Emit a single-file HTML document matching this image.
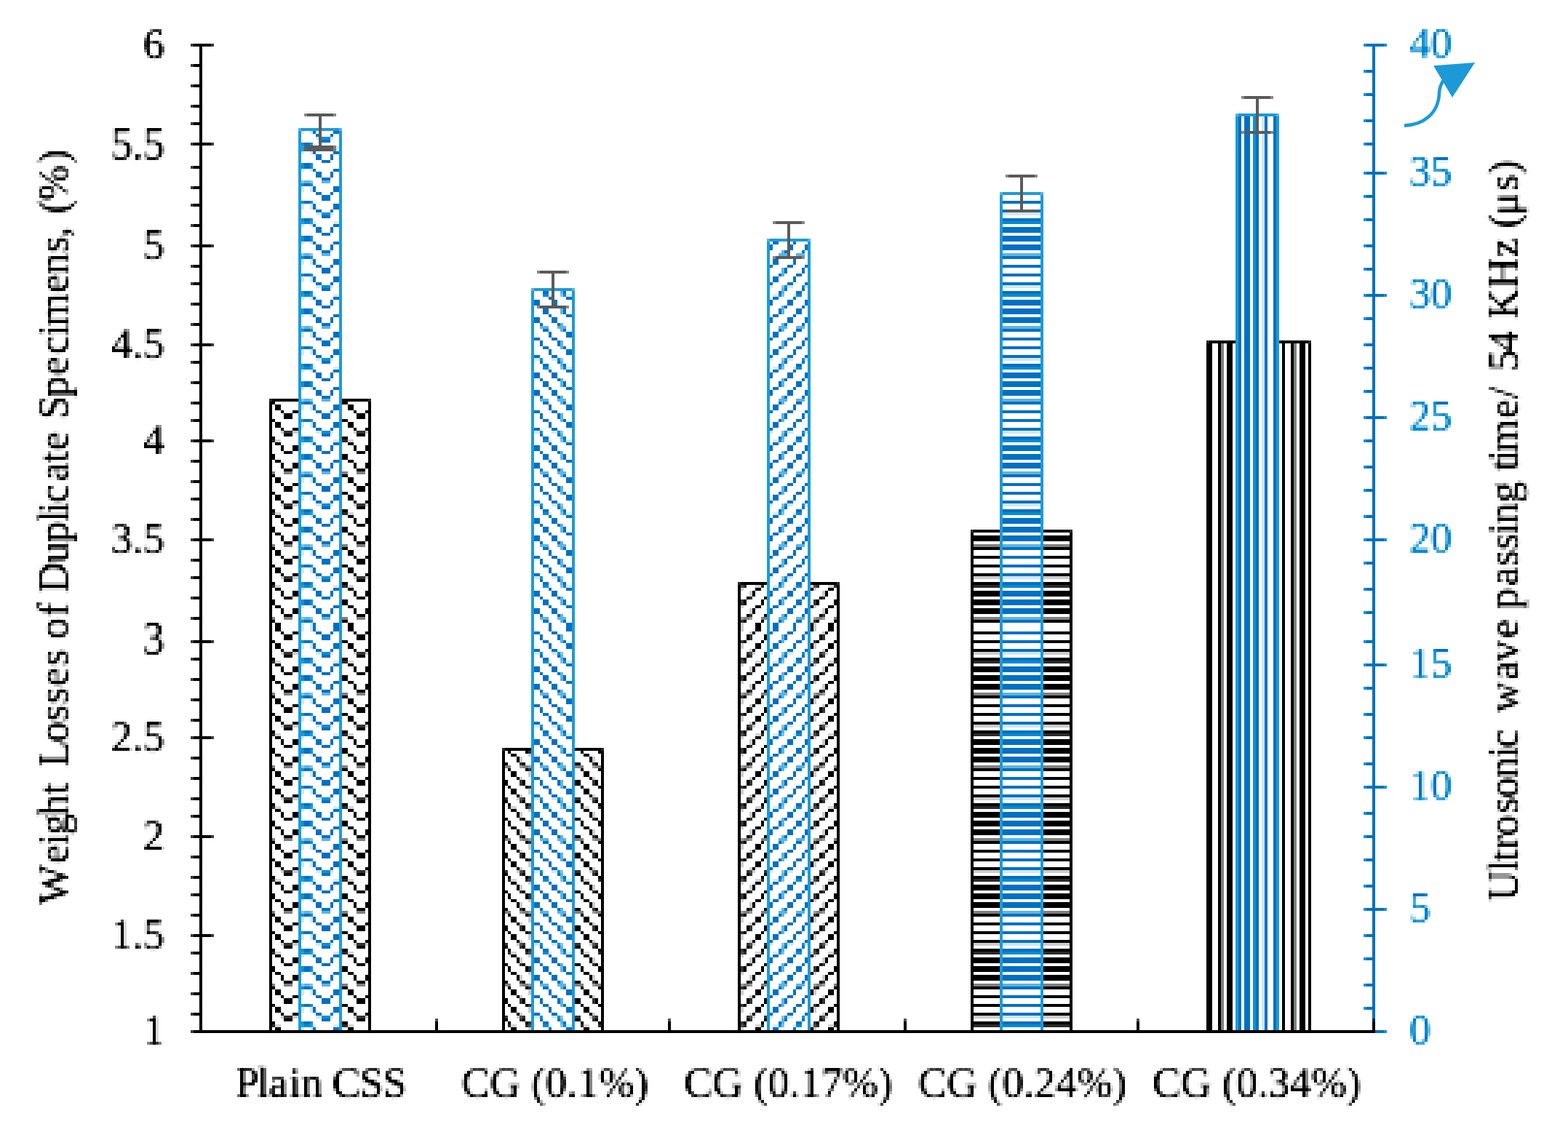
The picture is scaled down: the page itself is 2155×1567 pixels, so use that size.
<!DOCTYPE html>
<html lang="en"><head><meta charset="utf-8"><title>Weight losses of duplicate specimens and ultrasonic wave passing time</title>
<style>html,body{margin:0;padding:0;background:#fff}body{width:2155px;height:1567px;overflow:hidden}svg{display:block}text{font-family:"Liberation Serif","DejaVu Serif",serif;font-size:58.6px;font-kerning:none;font-variant-ligatures:none}</style></head><body>
<svg width="2155" height="1567" viewBox="0 0 2155 1567" role="img" aria-label="Bar chart: weight losses of duplicate specimens and ultrasonic wave passing time">
<defs>
<g id="t_zzk" fill="#000"><rect x="0" y="14" width="2" height="1" opacity="0.5"/><rect x="0" y="3" width="2" height="1" opacity="0.83"/><rect x="0" y="2" width="2" height="1"/><rect x="0" y="8" width="2" height="2"/><rect x="0" y="15" width="2" height="1"/><rect x="0" y="21" width="2" height="1"/><rect x="2" y="3" width="2" height="1" opacity="0.17"/><rect x="2" y="4" width="2" height="1"/><rect x="2" y="10" width="2" height="1"/><rect x="2" y="16" width="2" height="2"/><rect x="2" y="22" width="2" height="2"/><rect x="4" y="0" width="1" height="1" opacity="0.2"/><rect x="4" y="5" width="1" height="2"/><rect x="4" y="11" width="1" height="2"/><rect x="4" y="18" width="1" height="1"/><rect x="4" y="24" width="1" height="1"/><rect x="5" y="14" width="3" height="1" opacity="0.5"/><rect x="5" y="0" width="3" height="1" opacity="0.8"/><rect x="5" y="1" width="3" height="1"/><rect x="5" y="7" width="3" height="1"/><rect x="5" y="13" width="3" height="1"/><rect x="5" y="19" width="3" height="2"/><rect x="8" y="0" width="2" height="1" opacity="0.2"/><rect x="8" y="5" width="2" height="2"/><rect x="8" y="11" width="2" height="2"/><rect x="8" y="18" width="2" height="1"/><rect x="8" y="24" width="2" height="1"/><rect x="10" y="3" width="1" height="1" opacity="0.17"/><rect x="10" y="4" width="1" height="1"/><rect x="10" y="10" width="1" height="1"/><rect x="10" y="16" width="1" height="2"/><rect x="10" y="22" width="1" height="2"/><rect x="11" y="4" width="1" height="1" opacity="0.2"/><rect x="11" y="10" width="1" height="1" opacity="0.2"/><rect x="11" y="16" width="1" height="2" opacity="0.2"/><rect x="11" y="22" width="1" height="2" opacity="0.2"/><rect x="11" y="14" width="1" height="1" opacity="0.4"/><rect x="11" y="3" width="1" height="1" opacity="0.7"/><rect x="11" y="2" width="1" height="1" opacity="0.8"/><rect x="11" y="8" width="1" height="2" opacity="0.8"/><rect x="11" y="15" width="1" height="1" opacity="0.8"/><rect x="11" y="21" width="1" height="1" opacity="0.8"/><rect x="12" y="14" width="2" height="1" opacity="0.5"/><rect x="12" y="3" width="2" height="1" opacity="0.83"/><rect x="12" y="2" width="2" height="1"/><rect x="12" y="8" width="2" height="2"/><rect x="12" y="15" width="2" height="1"/><rect x="12" y="21" width="2" height="1"/><rect x="14" y="4" width="1" height="1" opacity="0.2"/><rect x="14" y="10" width="1" height="1" opacity="0.2"/><rect x="14" y="16" width="1" height="2" opacity="0.2"/><rect x="14" y="22" width="1" height="2" opacity="0.2"/><rect x="14" y="14" width="1" height="1" opacity="0.4"/><rect x="14" y="3" width="1" height="1" opacity="0.7"/><rect x="14" y="2" width="1" height="1" opacity="0.8"/><rect x="14" y="8" width="1" height="2" opacity="0.8"/><rect x="14" y="15" width="1" height="1" opacity="0.8"/><rect x="14" y="21" width="1" height="1" opacity="0.8"/><rect x="15" y="3" width="1" height="1" opacity="0.17"/><rect x="15" y="4" width="1" height="1"/><rect x="15" y="10" width="1" height="1"/><rect x="15" y="16" width="1" height="2"/><rect x="15" y="22" width="1" height="2"/><rect x="16" y="0" width="2" height="1" opacity="0.2"/><rect x="16" y="5" width="2" height="2"/><rect x="16" y="11" width="2" height="2"/><rect x="16" y="18" width="2" height="1"/><rect x="16" y="24" width="2" height="1"/><rect x="18" y="14" width="3" height="1" opacity="0.5"/><rect x="18" y="0" width="3" height="1" opacity="0.8"/><rect x="18" y="1" width="3" height="1"/><rect x="18" y="7" width="3" height="1"/><rect x="18" y="13" width="3" height="1"/><rect x="18" y="19" width="3" height="2"/><rect x="21" y="0" width="1" height="1" opacity="0.2"/><rect x="21" y="5" width="1" height="2"/><rect x="21" y="11" width="1" height="2"/><rect x="21" y="18" width="1" height="1"/><rect x="21" y="24" width="1" height="1"/><rect x="22" y="3" width="2" height="1" opacity="0.17"/><rect x="22" y="4" width="2" height="1"/><rect x="22" y="10" width="2" height="1"/><rect x="22" y="16" width="2" height="2"/><rect x="22" y="22" width="2" height="2"/><rect x="24" y="14" width="1" height="1" opacity="0.5"/><rect x="24" y="3" width="1" height="1" opacity="0.83"/><rect x="24" y="2" width="1" height="1"/><rect x="24" y="8" width="1" height="2"/><rect x="24" y="15" width="1" height="1"/><rect x="24" y="21" width="1" height="1"/></g>
<g id="t_zzb" fill="#0070c4"><rect x="0" y="14" width="2" height="1" fill="#5cb5e0"/><rect x="0" y="3" width="2" height="1" fill="#008cd2"/><rect x="0" y="2" width="2" height="1"/><rect x="0" y="8" width="2" height="2"/><rect x="0" y="15" width="2" height="1"/><rect x="0" y="21" width="2" height="1"/><rect x="2" y="3" width="2" height="1" fill="#d6ebf6"/><rect x="2" y="4" width="2" height="1"/><rect x="2" y="10" width="2" height="1"/><rect x="2" y="16" width="2" height="2"/><rect x="2" y="22" width="2" height="2"/><rect x="4" y="0" width="1" height="1" fill="#cfe8f5"/><rect x="4" y="5" width="1" height="2"/><rect x="4" y="11" width="1" height="2"/><rect x="4" y="18" width="1" height="1"/><rect x="4" y="24" width="1" height="1"/><rect x="5" y="14" width="3" height="1" fill="#5cb5e0"/><rect x="5" y="0" width="3" height="1" fill="#0890d3"/><rect x="5" y="1" width="3" height="1"/><rect x="5" y="7" width="3" height="1"/><rect x="5" y="13" width="3" height="1"/><rect x="5" y="19" width="3" height="2"/><rect x="8" y="0" width="2" height="1" fill="#cfe8f5"/><rect x="8" y="5" width="2" height="2"/><rect x="8" y="11" width="2" height="2"/><rect x="8" y="18" width="2" height="1"/><rect x="8" y="24" width="2" height="1"/><rect x="10" y="3" width="1" height="1" fill="#d6ebf6"/><rect x="10" y="4" width="1" height="1"/><rect x="10" y="10" width="1" height="1"/><rect x="10" y="16" width="1" height="2"/><rect x="10" y="22" width="1" height="2"/><rect x="11" y="4" width="1" height="1" fill="#cfe8f5"/><rect x="11" y="10" width="1" height="1" fill="#cfe8f5"/><rect x="11" y="16" width="1" height="2" fill="#cfe8f5"/><rect x="11" y="22" width="1" height="2" fill="#cfe8f5"/><rect x="11" y="14" width="1" height="1" fill="#82c6e7"/><rect x="11" y="3" width="1" height="1" fill="#249cd8"/><rect x="11" y="2" width="1" height="1" fill="#0890d3"/><rect x="11" y="8" width="1" height="2" fill="#0890d3"/><rect x="11" y="15" width="1" height="1" fill="#0890d3"/><rect x="11" y="21" width="1" height="1" fill="#0890d3"/><rect x="12" y="14" width="2" height="1" fill="#5cb5e0"/><rect x="12" y="3" width="2" height="1" fill="#008cd2"/><rect x="12" y="2" width="2" height="1"/><rect x="12" y="8" width="2" height="2"/><rect x="12" y="15" width="2" height="1"/><rect x="12" y="21" width="2" height="1"/><rect x="14" y="4" width="1" height="1" fill="#cfe8f5"/><rect x="14" y="10" width="1" height="1" fill="#cfe8f5"/><rect x="14" y="16" width="1" height="2" fill="#cfe8f5"/><rect x="14" y="22" width="1" height="2" fill="#cfe8f5"/><rect x="14" y="14" width="1" height="1" fill="#82c6e7"/><rect x="14" y="3" width="1" height="1" fill="#249cd8"/><rect x="14" y="2" width="1" height="1" fill="#0890d3"/><rect x="14" y="8" width="1" height="2" fill="#0890d3"/><rect x="14" y="15" width="1" height="1" fill="#0890d3"/><rect x="14" y="21" width="1" height="1" fill="#0890d3"/><rect x="15" y="3" width="1" height="1" fill="#d6ebf6"/><rect x="15" y="4" width="1" height="1"/><rect x="15" y="10" width="1" height="1"/><rect x="15" y="16" width="1" height="2"/><rect x="15" y="22" width="1" height="2"/><rect x="16" y="0" width="2" height="1" fill="#cfe8f5"/><rect x="16" y="5" width="2" height="2"/><rect x="16" y="11" width="2" height="2"/><rect x="16" y="18" width="2" height="1"/><rect x="16" y="24" width="2" height="1"/><rect x="18" y="14" width="3" height="1" fill="#5cb5e0"/><rect x="18" y="0" width="3" height="1" fill="#0890d3"/><rect x="18" y="1" width="3" height="1"/><rect x="18" y="7" width="3" height="1"/><rect x="18" y="13" width="3" height="1"/><rect x="18" y="19" width="3" height="2"/><rect x="21" y="0" width="1" height="1" fill="#cfe8f5"/><rect x="21" y="5" width="1" height="2"/><rect x="21" y="11" width="1" height="2"/><rect x="21" y="18" width="1" height="1"/><rect x="21" y="24" width="1" height="1"/><rect x="22" y="3" width="2" height="1" fill="#d6ebf6"/><rect x="22" y="4" width="2" height="1"/><rect x="22" y="10" width="2" height="1"/><rect x="22" y="16" width="2" height="2"/><rect x="22" y="22" width="2" height="2"/><rect x="24" y="14" width="1" height="1" fill="#5cb5e0"/><rect x="24" y="3" width="1" height="1" fill="#008cd2"/><rect x="24" y="2" width="1" height="1"/><rect x="24" y="8" width="1" height="2"/><rect x="24" y="15" width="1" height="1"/><rect x="24" y="21" width="1" height="1"/></g>
<g id="t_ddk" fill="#000"><rect x="0" y="0" width="1" height="1" opacity="0.4"/><rect x="0" y="3" width="1" height="1" opacity="0.41"/><rect x="0" y="1" width="1" height="2" opacity="0.5"/><rect x="0" y="7" width="1" height="3" opacity="0.5"/><rect x="0" y="13" width="1" height="1" opacity="0.5"/><rect x="0" y="15" width="1" height="1" opacity="0.5"/><rect x="0" y="19" width="1" height="3" opacity="0.5"/><rect x="0" y="14" width="2" height="1" opacity="0.5"/><rect x="1" y="3" width="1" height="1" opacity="0.83"/><rect x="1" y="2" width="1" height="1"/><rect x="1" y="8" width="1" height="2"/><rect x="1" y="15" width="1" height="1"/><rect x="1" y="21" width="1" height="1"/><rect x="2" y="3" width="2" height="1" opacity="0.17"/><rect x="2" y="4" width="2" height="1"/><rect x="2" y="10" width="2" height="1"/><rect x="2" y="16" width="2" height="2"/><rect x="2" y="22" width="2" height="2"/><rect x="4" y="0" width="1" height="1" opacity="0.2"/><rect x="4" y="5" width="1" height="2"/><rect x="4" y="11" width="1" height="2"/><rect x="4" y="18" width="1" height="1"/><rect x="4" y="24" width="1" height="1"/><rect x="5" y="0" width="2" height="1" opacity="0.8"/><rect x="5" y="1" width="2" height="1"/><rect x="5" y="7" width="2" height="1"/><rect x="5" y="13" width="2" height="1"/><rect x="5" y="19" width="2" height="2"/><rect x="5" y="14" width="3" height="1" opacity="0.5"/><rect x="7" y="3" width="1" height="1" opacity="0.83"/><rect x="7" y="2" width="1" height="1"/><rect x="7" y="8" width="1" height="2"/><rect x="7" y="15" width="1" height="1"/><rect x="7" y="21" width="1" height="1"/><rect x="8" y="3" width="2" height="1" opacity="0.17"/><rect x="8" y="4" width="2" height="1"/><rect x="8" y="10" width="2" height="1"/><rect x="8" y="16" width="2" height="2"/><rect x="8" y="22" width="2" height="2"/><rect x="10" y="0" width="1" height="1" opacity="0.2"/><rect x="10" y="5" width="1" height="2"/><rect x="10" y="11" width="1" height="2"/><rect x="10" y="18" width="1" height="1"/><rect x="10" y="24" width="1" height="1"/><rect x="11" y="5" width="1" height="2" opacity="0.2"/><rect x="11" y="11" width="1" height="2" opacity="0.2"/><rect x="11" y="18" width="1" height="1" opacity="0.2"/><rect x="11" y="24" width="1" height="1" opacity="0.2"/><rect x="11" y="14" width="1" height="1" opacity="0.4"/><rect x="11" y="0" width="1" height="1" opacity="0.68"/><rect x="11" y="1" width="1" height="1" opacity="0.8"/><rect x="11" y="7" width="1" height="1" opacity="0.8"/><rect x="11" y="13" width="1" height="1" opacity="0.8"/><rect x="11" y="19" width="1" height="2" opacity="0.8"/><rect x="12" y="0" width="1" height="1" opacity="0.8"/><rect x="12" y="1" width="1" height="1"/><rect x="12" y="7" width="1" height="1"/><rect x="12" y="13" width="1" height="1"/><rect x="12" y="19" width="1" height="2"/><rect x="12" y="14" width="2" height="1" opacity="0.5"/><rect x="13" y="3" width="1" height="1" opacity="0.83"/><rect x="13" y="2" width="1" height="1"/><rect x="13" y="8" width="1" height="2"/><rect x="13" y="15" width="1" height="1"/><rect x="13" y="21" width="1" height="1"/><rect x="14" y="4" width="1" height="1" opacity="0.2"/><rect x="14" y="10" width="1" height="1" opacity="0.2"/><rect x="14" y="16" width="1" height="2" opacity="0.2"/><rect x="14" y="22" width="1" height="2" opacity="0.2"/><rect x="14" y="14" width="1" height="1" opacity="0.4"/><rect x="14" y="3" width="1" height="1" opacity="0.7"/><rect x="14" y="2" width="1" height="1" opacity="0.8"/><rect x="14" y="8" width="1" height="2" opacity="0.8"/><rect x="14" y="15" width="1" height="1" opacity="0.8"/><rect x="14" y="21" width="1" height="1" opacity="0.8"/><rect x="15" y="3" width="1" height="1" opacity="0.17"/><rect x="15" y="4" width="1" height="1"/><rect x="15" y="10" width="1" height="1"/><rect x="15" y="16" width="1" height="2"/><rect x="15" y="22" width="1" height="2"/><rect x="16" y="0" width="2" height="1" opacity="0.2"/><rect x="16" y="5" width="2" height="2"/><rect x="16" y="11" width="2" height="2"/><rect x="16" y="18" width="2" height="1"/><rect x="16" y="24" width="2" height="1"/><rect x="18" y="0" width="1" height="1" opacity="0.8"/><rect x="18" y="1" width="1" height="1"/><rect x="18" y="7" width="1" height="1"/><rect x="18" y="13" width="1" height="1"/><rect x="18" y="19" width="1" height="2"/><rect x="18" y="14" width="3" height="1" opacity="0.5"/><rect x="19" y="3" width="2" height="1" opacity="0.83"/><rect x="19" y="2" width="2" height="1"/><rect x="19" y="8" width="2" height="2"/><rect x="19" y="15" width="2" height="1"/><rect x="19" y="21" width="2" height="1"/><rect x="21" y="3" width="1" height="1" opacity="0.17"/><rect x="21" y="4" width="1" height="1"/><rect x="21" y="10" width="1" height="1"/><rect x="21" y="16" width="1" height="2"/><rect x="21" y="22" width="1" height="2"/><rect x="22" y="0" width="2" height="1" opacity="0.2"/><rect x="22" y="5" width="2" height="2"/><rect x="22" y="11" width="2" height="2"/><rect x="22" y="18" width="2" height="1"/><rect x="22" y="24" width="2" height="1"/><rect x="24" y="14" width="1" height="1" opacity="0.5"/><rect x="24" y="0" width="1" height="1" opacity="0.8"/><rect x="24" y="1" width="1" height="1"/><rect x="24" y="7" width="1" height="1"/><rect x="24" y="13" width="1" height="1"/><rect x="24" y="19" width="1" height="2"/></g>
<g id="t_ddb" fill="#0070c4"><rect x="0" y="0" width="1" height="1" fill="#82c6e7"/><rect x="0" y="3" width="1" height="1" fill="#7ec4e6"/><rect x="0" y="1" width="1" height="2" fill="#5cb5e0"/><rect x="0" y="7" width="1" height="3" fill="#5cb5e0"/><rect x="0" y="13" width="1" height="1" fill="#5cb5e0"/><rect x="0" y="15" width="1" height="1" fill="#5cb5e0"/><rect x="0" y="19" width="1" height="3" fill="#5cb5e0"/><rect x="0" y="14" width="2" height="1" fill="#5cb5e0"/><rect x="1" y="3" width="1" height="1" fill="#008cd2"/><rect x="1" y="2" width="1" height="1"/><rect x="1" y="8" width="1" height="2"/><rect x="1" y="15" width="1" height="1"/><rect x="1" y="21" width="1" height="1"/><rect x="2" y="3" width="2" height="1" fill="#d6ebf6"/><rect x="2" y="4" width="2" height="1"/><rect x="2" y="10" width="2" height="1"/><rect x="2" y="16" width="2" height="2"/><rect x="2" y="22" width="2" height="2"/><rect x="4" y="0" width="1" height="1" fill="#cfe8f5"/><rect x="4" y="5" width="1" height="2"/><rect x="4" y="11" width="1" height="2"/><rect x="4" y="18" width="1" height="1"/><rect x="4" y="24" width="1" height="1"/><rect x="5" y="0" width="2" height="1" fill="#0890d3"/><rect x="5" y="1" width="2" height="1"/><rect x="5" y="7" width="2" height="1"/><rect x="5" y="13" width="2" height="1"/><rect x="5" y="19" width="2" height="2"/><rect x="5" y="14" width="3" height="1" fill="#5cb5e0"/><rect x="7" y="3" width="1" height="1" fill="#008cd2"/><rect x="7" y="2" width="1" height="1"/><rect x="7" y="8" width="1" height="2"/><rect x="7" y="15" width="1" height="1"/><rect x="7" y="21" width="1" height="1"/><rect x="8" y="3" width="2" height="1" fill="#d6ebf6"/><rect x="8" y="4" width="2" height="1"/><rect x="8" y="10" width="2" height="1"/><rect x="8" y="16" width="2" height="2"/><rect x="8" y="22" width="2" height="2"/><rect x="10" y="0" width="1" height="1" fill="#cfe8f5"/><rect x="10" y="5" width="1" height="2"/><rect x="10" y="11" width="1" height="2"/><rect x="10" y="18" width="1" height="1"/><rect x="10" y="24" width="1" height="1"/><rect x="11" y="5" width="1" height="2" fill="#cfe8f5"/><rect x="11" y="11" width="1" height="2" fill="#cfe8f5"/><rect x="11" y="18" width="1" height="1" fill="#cfe8f5"/><rect x="11" y="24" width="1" height="1" fill="#cfe8f5"/><rect x="11" y="14" width="1" height="1" fill="#82c6e7"/><rect x="11" y="0" width="1" height="1" fill="#2a9fd8"/><rect x="11" y="1" width="1" height="1" fill="#0890d3"/><rect x="11" y="7" width="1" height="1" fill="#0890d3"/><rect x="11" y="13" width="1" height="1" fill="#0890d3"/><rect x="11" y="19" width="1" height="2" fill="#0890d3"/><rect x="12" y="0" width="1" height="1" fill="#0890d3"/><rect x="12" y="1" width="1" height="1"/><rect x="12" y="7" width="1" height="1"/><rect x="12" y="13" width="1" height="1"/><rect x="12" y="19" width="1" height="2"/><rect x="12" y="14" width="2" height="1" fill="#5cb5e0"/><rect x="13" y="3" width="1" height="1" fill="#008cd2"/><rect x="13" y="2" width="1" height="1"/><rect x="13" y="8" width="1" height="2"/><rect x="13" y="15" width="1" height="1"/><rect x="13" y="21" width="1" height="1"/><rect x="14" y="4" width="1" height="1" fill="#cfe8f5"/><rect x="14" y="10" width="1" height="1" fill="#cfe8f5"/><rect x="14" y="16" width="1" height="2" fill="#cfe8f5"/><rect x="14" y="22" width="1" height="2" fill="#cfe8f5"/><rect x="14" y="14" width="1" height="1" fill="#82c6e7"/><rect x="14" y="3" width="1" height="1" fill="#249cd8"/><rect x="14" y="2" width="1" height="1" fill="#0890d3"/><rect x="14" y="8" width="1" height="2" fill="#0890d3"/><rect x="14" y="15" width="1" height="1" fill="#0890d3"/><rect x="14" y="21" width="1" height="1" fill="#0890d3"/><rect x="15" y="3" width="1" height="1" fill="#d6ebf6"/><rect x="15" y="4" width="1" height="1"/><rect x="15" y="10" width="1" height="1"/><rect x="15" y="16" width="1" height="2"/><rect x="15" y="22" width="1" height="2"/><rect x="16" y="0" width="2" height="1" fill="#cfe8f5"/><rect x="16" y="5" width="2" height="2"/><rect x="16" y="11" width="2" height="2"/><rect x="16" y="18" width="2" height="1"/><rect x="16" y="24" width="2" height="1"/><rect x="18" y="0" width="1" height="1" fill="#0890d3"/><rect x="18" y="1" width="1" height="1"/><rect x="18" y="7" width="1" height="1"/><rect x="18" y="13" width="1" height="1"/><rect x="18" y="19" width="1" height="2"/><rect x="18" y="14" width="3" height="1" fill="#5cb5e0"/><rect x="19" y="3" width="2" height="1" fill="#008cd2"/><rect x="19" y="2" width="2" height="1"/><rect x="19" y="8" width="2" height="2"/><rect x="19" y="15" width="2" height="1"/><rect x="19" y="21" width="2" height="1"/><rect x="21" y="3" width="1" height="1" fill="#d6ebf6"/><rect x="21" y="4" width="1" height="1"/><rect x="21" y="10" width="1" height="1"/><rect x="21" y="16" width="1" height="2"/><rect x="21" y="22" width="1" height="2"/><rect x="22" y="0" width="2" height="1" fill="#cfe8f5"/><rect x="22" y="5" width="2" height="2"/><rect x="22" y="11" width="2" height="2"/><rect x="22" y="18" width="2" height="1"/><rect x="22" y="24" width="2" height="1"/><rect x="24" y="14" width="1" height="1" fill="#5cb5e0"/><rect x="24" y="0" width="1" height="1" fill="#0890d3"/><rect x="24" y="1" width="1" height="1"/><rect x="24" y="7" width="1" height="1"/><rect x="24" y="13" width="1" height="1"/><rect x="24" y="19" width="1" height="2"/></g>
<g id="t_duk" fill="#000"><rect x="0" y="0" width="1" height="1" opacity="0.4"/><rect x="0" y="3" width="1" height="1" opacity="0.41"/><rect x="0" y="1" width="1" height="2" opacity="0.5"/><rect x="0" y="7" width="1" height="3" opacity="0.5"/><rect x="0" y="13" width="1" height="1" opacity="0.5"/><rect x="0" y="15" width="1" height="1" opacity="0.5"/><rect x="0" y="19" width="1" height="3" opacity="0.5"/><rect x="0" y="14" width="2" height="1" opacity="0.5"/><rect x="1" y="0" width="1" height="1" opacity="0.8"/><rect x="1" y="1" width="1" height="1"/><rect x="1" y="7" width="1" height="1"/><rect x="1" y="13" width="1" height="1"/><rect x="1" y="19" width="1" height="2"/><rect x="2" y="0" width="2" height="1" opacity="0.2"/><rect x="2" y="5" width="2" height="2"/><rect x="2" y="11" width="2" height="2"/><rect x="2" y="18" width="2" height="1"/><rect x="2" y="24" width="2" height="1"/><rect x="4" y="3" width="1" height="1" opacity="0.17"/><rect x="4" y="4" width="1" height="1"/><rect x="4" y="10" width="1" height="1"/><rect x="4" y="16" width="1" height="2"/><rect x="4" y="22" width="1" height="2"/><rect x="5" y="3" width="2" height="1" opacity="0.83"/><rect x="5" y="2" width="2" height="1"/><rect x="5" y="8" width="2" height="2"/><rect x="5" y="15" width="2" height="1"/><rect x="5" y="21" width="2" height="1"/><rect x="5" y="14" width="3" height="1" opacity="0.5"/><rect x="7" y="0" width="1" height="1" opacity="0.8"/><rect x="7" y="1" width="1" height="1"/><rect x="7" y="7" width="1" height="1"/><rect x="7" y="13" width="1" height="1"/><rect x="7" y="19" width="1" height="2"/><rect x="8" y="0" width="2" height="1" opacity="0.2"/><rect x="8" y="5" width="2" height="2"/><rect x="8" y="11" width="2" height="2"/><rect x="8" y="18" width="2" height="1"/><rect x="8" y="24" width="2" height="1"/><rect x="10" y="3" width="1" height="1" opacity="0.17"/><rect x="10" y="4" width="1" height="1"/><rect x="10" y="10" width="1" height="1"/><rect x="10" y="16" width="1" height="2"/><rect x="10" y="22" width="1" height="2"/><rect x="11" y="4" width="1" height="1" opacity="0.2"/><rect x="11" y="10" width="1" height="1" opacity="0.2"/><rect x="11" y="16" width="1" height="2" opacity="0.2"/><rect x="11" y="22" width="1" height="2" opacity="0.2"/><rect x="11" y="14" width="1" height="1" opacity="0.4"/><rect x="11" y="3" width="1" height="1" opacity="0.7"/><rect x="11" y="2" width="1" height="1" opacity="0.8"/><rect x="11" y="8" width="1" height="2" opacity="0.8"/><rect x="11" y="15" width="1" height="1" opacity="0.8"/><rect x="11" y="21" width="1" height="1" opacity="0.8"/><rect x="12" y="3" width="1" height="1" opacity="0.83"/><rect x="12" y="2" width="1" height="1"/><rect x="12" y="8" width="1" height="2"/><rect x="12" y="15" width="1" height="1"/><rect x="12" y="21" width="1" height="1"/><rect x="12" y="14" width="2" height="1" opacity="0.5"/><rect x="13" y="0" width="1" height="1" opacity="0.8"/><rect x="13" y="1" width="1" height="1"/><rect x="13" y="7" width="1" height="1"/><rect x="13" y="13" width="1" height="1"/><rect x="13" y="19" width="1" height="2"/><rect x="14" y="5" width="1" height="2" opacity="0.2"/><rect x="14" y="11" width="1" height="2" opacity="0.2"/><rect x="14" y="18" width="1" height="1" opacity="0.2"/><rect x="14" y="24" width="1" height="1" opacity="0.2"/><rect x="14" y="14" width="1" height="1" opacity="0.4"/><rect x="14" y="0" width="1" height="1" opacity="0.68"/><rect x="14" y="1" width="1" height="1" opacity="0.8"/><rect x="14" y="7" width="1" height="1" opacity="0.8"/><rect x="14" y="13" width="1" height="1" opacity="0.8"/><rect x="14" y="19" width="1" height="2" opacity="0.8"/><rect x="15" y="0" width="1" height="1" opacity="0.2"/><rect x="15" y="5" width="1" height="2"/><rect x="15" y="11" width="1" height="2"/><rect x="15" y="18" width="1" height="1"/><rect x="15" y="24" width="1" height="1"/><rect x="16" y="3" width="2" height="1" opacity="0.17"/><rect x="16" y="4" width="2" height="1"/><rect x="16" y="10" width="2" height="1"/><rect x="16" y="16" width="2" height="2"/><rect x="16" y="22" width="2" height="2"/><rect x="18" y="3" width="1" height="1" opacity="0.83"/><rect x="18" y="2" width="1" height="1"/><rect x="18" y="8" width="1" height="2"/><rect x="18" y="15" width="1" height="1"/><rect x="18" y="21" width="1" height="1"/><rect x="18" y="14" width="3" height="1" opacity="0.5"/><rect x="19" y="0" width="2" height="1" opacity="0.8"/><rect x="19" y="1" width="2" height="1"/><rect x="19" y="7" width="2" height="1"/><rect x="19" y="13" width="2" height="1"/><rect x="19" y="19" width="2" height="2"/><rect x="21" y="0" width="1" height="1" opacity="0.2"/><rect x="21" y="5" width="1" height="2"/><rect x="21" y="11" width="1" height="2"/><rect x="21" y="18" width="1" height="1"/><rect x="21" y="24" width="1" height="1"/><rect x="22" y="3" width="2" height="1" opacity="0.17"/><rect x="22" y="4" width="2" height="1"/><rect x="22" y="10" width="2" height="1"/><rect x="22" y="16" width="2" height="2"/><rect x="22" y="22" width="2" height="2"/><rect x="24" y="14" width="1" height="1" opacity="0.5"/><rect x="24" y="3" width="1" height="1" opacity="0.83"/><rect x="24" y="2" width="1" height="1"/><rect x="24" y="8" width="1" height="2"/><rect x="24" y="15" width="1" height="1"/><rect x="24" y="21" width="1" height="1"/></g>
<g id="t_dub" fill="#0070c4"><rect x="0" y="0" width="1" height="1" fill="#82c6e7"/><rect x="0" y="3" width="1" height="1" fill="#7ec4e6"/><rect x="0" y="1" width="1" height="2" fill="#5cb5e0"/><rect x="0" y="7" width="1" height="3" fill="#5cb5e0"/><rect x="0" y="13" width="1" height="1" fill="#5cb5e0"/><rect x="0" y="15" width="1" height="1" fill="#5cb5e0"/><rect x="0" y="19" width="1" height="3" fill="#5cb5e0"/><rect x="0" y="14" width="2" height="1" fill="#5cb5e0"/><rect x="1" y="0" width="1" height="1" fill="#0890d3"/><rect x="1" y="1" width="1" height="1"/><rect x="1" y="7" width="1" height="1"/><rect x="1" y="13" width="1" height="1"/><rect x="1" y="19" width="1" height="2"/><rect x="2" y="0" width="2" height="1" fill="#cfe8f5"/><rect x="2" y="5" width="2" height="2"/><rect x="2" y="11" width="2" height="2"/><rect x="2" y="18" width="2" height="1"/><rect x="2" y="24" width="2" height="1"/><rect x="4" y="3" width="1" height="1" fill="#d6ebf6"/><rect x="4" y="4" width="1" height="1"/><rect x="4" y="10" width="1" height="1"/><rect x="4" y="16" width="1" height="2"/><rect x="4" y="22" width="1" height="2"/><rect x="5" y="3" width="2" height="1" fill="#008cd2"/><rect x="5" y="2" width="2" height="1"/><rect x="5" y="8" width="2" height="2"/><rect x="5" y="15" width="2" height="1"/><rect x="5" y="21" width="2" height="1"/><rect x="5" y="14" width="3" height="1" fill="#5cb5e0"/><rect x="7" y="0" width="1" height="1" fill="#0890d3"/><rect x="7" y="1" width="1" height="1"/><rect x="7" y="7" width="1" height="1"/><rect x="7" y="13" width="1" height="1"/><rect x="7" y="19" width="1" height="2"/><rect x="8" y="0" width="2" height="1" fill="#cfe8f5"/><rect x="8" y="5" width="2" height="2"/><rect x="8" y="11" width="2" height="2"/><rect x="8" y="18" width="2" height="1"/><rect x="8" y="24" width="2" height="1"/><rect x="10" y="3" width="1" height="1" fill="#d6ebf6"/><rect x="10" y="4" width="1" height="1"/><rect x="10" y="10" width="1" height="1"/><rect x="10" y="16" width="1" height="2"/><rect x="10" y="22" width="1" height="2"/><rect x="11" y="4" width="1" height="1" fill="#cfe8f5"/><rect x="11" y="10" width="1" height="1" fill="#cfe8f5"/><rect x="11" y="16" width="1" height="2" fill="#cfe8f5"/><rect x="11" y="22" width="1" height="2" fill="#cfe8f5"/><rect x="11" y="14" width="1" height="1" fill="#82c6e7"/><rect x="11" y="3" width="1" height="1" fill="#249cd8"/><rect x="11" y="2" width="1" height="1" fill="#0890d3"/><rect x="11" y="8" width="1" height="2" fill="#0890d3"/><rect x="11" y="15" width="1" height="1" fill="#0890d3"/><rect x="11" y="21" width="1" height="1" fill="#0890d3"/><rect x="12" y="3" width="1" height="1" fill="#008cd2"/><rect x="12" y="2" width="1" height="1"/><rect x="12" y="8" width="1" height="2"/><rect x="12" y="15" width="1" height="1"/><rect x="12" y="21" width="1" height="1"/><rect x="12" y="14" width="2" height="1" fill="#5cb5e0"/><rect x="13" y="0" width="1" height="1" fill="#0890d3"/><rect x="13" y="1" width="1" height="1"/><rect x="13" y="7" width="1" height="1"/><rect x="13" y="13" width="1" height="1"/><rect x="13" y="19" width="1" height="2"/><rect x="14" y="5" width="1" height="2" fill="#cfe8f5"/><rect x="14" y="11" width="1" height="2" fill="#cfe8f5"/><rect x="14" y="18" width="1" height="1" fill="#cfe8f5"/><rect x="14" y="24" width="1" height="1" fill="#cfe8f5"/><rect x="14" y="14" width="1" height="1" fill="#82c6e7"/><rect x="14" y="0" width="1" height="1" fill="#2a9fd8"/><rect x="14" y="1" width="1" height="1" fill="#0890d3"/><rect x="14" y="7" width="1" height="1" fill="#0890d3"/><rect x="14" y="13" width="1" height="1" fill="#0890d3"/><rect x="14" y="19" width="1" height="2" fill="#0890d3"/><rect x="15" y="0" width="1" height="1" fill="#cfe8f5"/><rect x="15" y="5" width="1" height="2"/><rect x="15" y="11" width="1" height="2"/><rect x="15" y="18" width="1" height="1"/><rect x="15" y="24" width="1" height="1"/><rect x="16" y="3" width="2" height="1" fill="#d6ebf6"/><rect x="16" y="4" width="2" height="1"/><rect x="16" y="10" width="2" height="1"/><rect x="16" y="16" width="2" height="2"/><rect x="16" y="22" width="2" height="2"/><rect x="18" y="3" width="1" height="1" fill="#008cd2"/><rect x="18" y="2" width="1" height="1"/><rect x="18" y="8" width="1" height="2"/><rect x="18" y="15" width="1" height="1"/><rect x="18" y="21" width="1" height="1"/><rect x="18" y="14" width="3" height="1" fill="#5cb5e0"/><rect x="19" y="0" width="2" height="1" fill="#0890d3"/><rect x="19" y="1" width="2" height="1"/><rect x="19" y="7" width="2" height="1"/><rect x="19" y="13" width="2" height="1"/><rect x="19" y="19" width="2" height="2"/><rect x="21" y="0" width="1" height="1" fill="#cfe8f5"/><rect x="21" y="5" width="1" height="2"/><rect x="21" y="11" width="1" height="2"/><rect x="21" y="18" width="1" height="1"/><rect x="21" y="24" width="1" height="1"/><rect x="22" y="3" width="2" height="1" fill="#d6ebf6"/><rect x="22" y="4" width="2" height="1"/><rect x="22" y="10" width="2" height="1"/><rect x="22" y="16" width="2" height="2"/><rect x="22" y="22" width="2" height="2"/><rect x="24" y="14" width="1" height="1" fill="#5cb5e0"/><rect x="24" y="3" width="1" height="1" fill="#008cd2"/><rect x="24" y="2" width="1" height="1"/><rect x="24" y="8" width="1" height="2"/><rect x="24" y="15" width="1" height="1"/><rect x="24" y="21" width="1" height="1"/></g>
<g id="t_hzk" fill="#000"><rect x="0" y="0" width="25" height="1" opacity="0.2"/><rect x="0" y="14" width="25" height="1" opacity="0.5"/><rect x="0" y="3" width="25" height="1" opacity="0.83"/><rect x="0" y="2" width="25" height="1"/><rect x="0" y="5" width="25" height="2"/><rect x="0" y="8" width="25" height="2"/><rect x="0" y="11" width="25" height="2"/><rect x="0" y="15" width="25" height="1"/><rect x="0" y="18" width="25" height="1"/><rect x="0" y="21" width="25" height="1"/><rect x="0" y="24" width="25" height="1"/></g>
<g id="t_hzb" fill="#0070c4"><rect x="0" y="0" width="25" height="1" fill="#cfe8f5"/><rect x="0" y="14" width="25" height="1" fill="#5cb5e0"/><rect x="0" y="3" width="25" height="1" fill="#008cd2"/><rect x="0" y="2" width="25" height="1"/><rect x="0" y="5" width="25" height="2"/><rect x="0" y="8" width="25" height="2"/><rect x="0" y="11" width="25" height="2"/><rect x="0" y="15" width="25" height="1"/><rect x="0" y="18" width="25" height="1"/><rect x="0" y="21" width="25" height="1"/><rect x="0" y="24" width="25" height="1"/></g>
<g id="t_vtk" fill="#000"><rect x="0" y="0" width="1" height="25" opacity="0.5"/><rect x="2" y="0" width="2" height="25"/><rect x="5" y="0" width="2" height="25"/><rect x="8" y="0" width="2" height="25"/><rect x="11" y="0" width="1" height="25" opacity="0.8"/><rect x="12" y="0" width="1" height="25"/><rect x="14" y="0" width="1" height="25" opacity="0.2"/><rect x="15" y="0" width="1" height="25"/><rect x="18" y="0" width="1" height="25"/><rect x="21" y="0" width="1" height="25"/><rect x="24" y="0" width="1" height="25"/></g>
<g id="t_vtb" fill="#0070c4"><rect x="0" y="0" width="1" height="25" fill="#5cb5e0"/><rect x="2" y="0" width="2" height="25"/><rect x="5" y="0" width="2" height="25"/><rect x="8" y="0" width="2" height="25"/><rect x="11" y="0" width="1" height="25" fill="#0890d3"/><rect x="12" y="0" width="1" height="25"/><rect x="14" y="0" width="1" height="25" fill="#cfe8f5"/><rect x="15" y="0" width="1" height="25"/><rect x="18" y="0" width="1" height="25"/><rect x="21" y="0" width="1" height="25"/><rect x="24" y="0" width="1" height="25"/></g>
<pattern id="p0k0" patternUnits="userSpaceOnUse" x="370" y="88" width="100" height="100"><use href="#t_zzk" transform="scale(4)"/></pattern>
<pattern id="p0k1" patternUnits="userSpaceOnUse" x="370" y="92" width="100" height="100"><use href="#t_zzk" transform="scale(4)"/></pattern>
<pattern id="p0k2" patternUnits="userSpaceOnUse" x="370" y="96" width="100" height="100"><use href="#t_zzk" transform="scale(4)"/></pattern>
<pattern id="p0b0" patternUnits="userSpaceOnUse" x="370" y="88" width="100" height="100"><use href="#t_zzb" transform="scale(4)"/></pattern>
<pattern id="p0b1" patternUnits="userSpaceOnUse" x="370" y="92" width="100" height="100"><use href="#t_zzb" transform="scale(4)"/></pattern>
<pattern id="p0b2" patternUnits="userSpaceOnUse" x="370" y="96" width="100" height="100"><use href="#t_zzb" transform="scale(4)"/></pattern>
<pattern id="p1k0" patternUnits="userSpaceOnUse" x="770" y="88" width="100" height="100"><use href="#t_ddk" transform="scale(4)"/></pattern>
<pattern id="p1k1" patternUnits="userSpaceOnUse" x="770" y="92" width="100" height="100"><use href="#t_ddk" transform="scale(4)"/></pattern>
<pattern id="p1k2" patternUnits="userSpaceOnUse" x="770" y="96" width="100" height="100"><use href="#t_ddk" transform="scale(4)"/></pattern>
<pattern id="p1b0" patternUnits="userSpaceOnUse" x="770" y="88" width="100" height="100"><use href="#t_ddb" transform="scale(4)"/></pattern>
<pattern id="p1b1" patternUnits="userSpaceOnUse" x="770" y="92" width="100" height="100"><use href="#t_ddb" transform="scale(4)"/></pattern>
<pattern id="p1b2" patternUnits="userSpaceOnUse" x="770" y="96" width="100" height="100"><use href="#t_ddb" transform="scale(4)"/></pattern>
<pattern id="p2k0" patternUnits="userSpaceOnUse" x="1074" y="88" width="100" height="100"><use href="#t_duk" transform="scale(4)"/></pattern>
<pattern id="p2k1" patternUnits="userSpaceOnUse" x="1074" y="92" width="100" height="100"><use href="#t_duk" transform="scale(4)"/></pattern>
<pattern id="p2k2" patternUnits="userSpaceOnUse" x="1074" y="96" width="100" height="100"><use href="#t_duk" transform="scale(4)"/></pattern>
<pattern id="p2b0" patternUnits="userSpaceOnUse" x="1074" y="88" width="100" height="100"><use href="#t_dub" transform="scale(4)"/></pattern>
<pattern id="p2b1" patternUnits="userSpaceOnUse" x="1074" y="92" width="100" height="100"><use href="#t_dub" transform="scale(4)"/></pattern>
<pattern id="p2b2" patternUnits="userSpaceOnUse" x="1074" y="96" width="100" height="100"><use href="#t_dub" transform="scale(4)"/></pattern>
<pattern id="p3k0" patternUnits="userSpaceOnUse" x="1374" y="88" width="100" height="100"><use href="#t_hzk" transform="scale(4)"/></pattern>
<pattern id="p3k1" patternUnits="userSpaceOnUse" x="1374" y="92" width="100" height="100"><use href="#t_hzk" transform="scale(4)"/></pattern>
<pattern id="p3k2" patternUnits="userSpaceOnUse" x="1374" y="96" width="100" height="100"><use href="#t_hzk" transform="scale(4)"/></pattern>
<pattern id="p3b0" patternUnits="userSpaceOnUse" x="1374" y="88" width="100" height="100"><use href="#t_hzb" transform="scale(4)"/></pattern>
<pattern id="p3b1" patternUnits="userSpaceOnUse" x="1374" y="92" width="100" height="100"><use href="#t_hzb" transform="scale(4)"/></pattern>
<pattern id="p3b2" patternUnits="userSpaceOnUse" x="1374" y="96" width="100" height="100"><use href="#t_hzb" transform="scale(4)"/></pattern>
<pattern id="p4k0" patternUnits="userSpaceOnUse" x="1678" y="88" width="100" height="100"><use href="#t_vtk" transform="scale(4)"/></pattern>
<pattern id="p4k1" patternUnits="userSpaceOnUse" x="1678" y="92" width="100" height="100"><use href="#t_vtk" transform="scale(4)"/></pattern>
<pattern id="p4k2" patternUnits="userSpaceOnUse" x="1678" y="96" width="100" height="100"><use href="#t_vtk" transform="scale(4)"/></pattern>
<pattern id="p4b0" patternUnits="userSpaceOnUse" x="1678" y="88" width="100" height="100"><use href="#t_vtb" transform="scale(4)"/></pattern>
<pattern id="p4b1" patternUnits="userSpaceOnUse" x="1678" y="92" width="100" height="100"><use href="#t_vtb" transform="scale(4)"/></pattern>
<pattern id="p4b2" patternUnits="userSpaceOnUse" x="1678" y="96" width="100" height="100"><use href="#t_vtb" transform="scale(4)"/></pattern>
<filter id="pxk" filterUnits="userSpaceOnUse" x="-6" y="-4" width="2168" height="1576" color-interpolation-filters="sRGB"><feConvolveMatrix in="SourceGraphic" order="4" kernelMatrix="1 1 1 1 1 1 1 1 1 1 1 1 1 1 1 1" divisor="16" targetX="1" targetY="1" edgeMode="duplicate" preserveAlpha="true" result="avg"/><feFlood x="-5" y="-3" width="1" height="1" flood-color="#000" result="dot"/><feOffset in="dot" dx="0" dy="0" x="-6" y="-4" width="4" height="4" result="cellt"/><feTile in="cellt" result="grid"/><feComposite in="avg" in2="grid" operator="in" result="smp"/><feMorphology in="smp" operator="dilate" radius="1" result="d0"/><feOffset in="d0" dx="1" dy="0" result="d1"/><feOffset in="d0" dx="0" dy="1" result="d2"/><feOffset in="d0" dx="1" dy="1" result="d3"/><feMerge result="held"><feMergeNode in="d3"/><feMergeNode in="d2"/><feMergeNode in="d1"/><feMergeNode in="d0"/></feMerge><feColorMatrix in="held" type="matrix" values="0 0 0 0 0.0000  0 0 0 0 0.0000  0 0 0 0 0.0000  -1 0 0 0 1" result="cov"/><feComponentTransfer in="cov" result="tone"><feFuncA type="table" tableValues="0.000 0.041 0.100 0.170 0.247 0.331 0.419 0.512 0.609 0.710 0.814 0.922 1.000 1.000 1.000 1.000 1.000"/></feComponentTransfer><feGaussianBlur in="tone" stdDeviation="0.5"/></filter>
<filter id="pxb" filterUnits="userSpaceOnUse" x="-6" y="-4" width="2168" height="1576" color-interpolation-filters="sRGB"><feConvolveMatrix in="SourceGraphic" order="4" kernelMatrix="1 1 1 1 1 1 1 1 1 1 1 1 1 1 1 1" divisor="16" targetX="1" targetY="1" edgeMode="duplicate" preserveAlpha="true" result="avg"/><feFlood x="-5" y="-3" width="1" height="1" flood-color="#000" result="dot"/><feOffset in="dot" dx="0" dy="0" x="-6" y="-4" width="4" height="4" result="cellt"/><feTile in="cellt" result="grid"/><feComposite in="avg" in2="grid" operator="in" result="smp"/><feMorphology in="smp" operator="dilate" radius="1" result="d0"/><feOffset in="d0" dx="1" dy="0" result="d1"/><feOffset in="d0" dx="0" dy="1" result="d2"/><feOffset in="d0" dx="1" dy="1" result="d3"/><feMerge result="held"><feMergeNode in="d3"/><feMergeNode in="d2"/><feMergeNode in="d1"/><feMergeNode in="d0"/></feMerge><feColorMatrix in="held" type="matrix" values="-1 0 0 0 1  -1 0 0 0 1  -1 0 0 0 1  -1 0 0 0 1" result="cov"/><feComponentTransfer in="cov" result="tone"><feFuncR type="table" tableValues="0.000 0.000 0.000 0.000 0.000 0.000 0.000 0.000 0.000 0.000 0.000 0.000 0.000 0.000 0.000 0.000 0.000"/><feFuncG type="table" tableValues="0.549 0.549 0.549 0.549 0.549 0.549 0.549 0.549 0.549 0.549 0.549 0.549 0.549 0.542 0.508 0.474 0.439"/><feFuncB type="table" tableValues="0.816 0.816 0.816 0.816 0.816 0.816 0.816 0.816 0.816 0.816 0.816 0.816 0.816 0.813 0.798 0.783 0.769"/><feFuncA type="table" tableValues="0.000 0.041 0.100 0.170 0.247 0.331 0.419 0.512 0.609 0.710 0.814 0.922 1.000 1.000 1.000 1.000 1.000"/></feComponentTransfer><feGaussianBlur in="tone" stdDeviation="0.5"/></filter>
<filter id="soft" filterUnits="userSpaceOnUse" x="0" y="0" width="2155" height="1567"><feGaussianBlur stdDeviation="0.45"/></filter>
</defs>
<rect x="0" y="0" width="2155" height="1567" fill="#fff"/>
<g id="labels" fill="#000" filter="url(#pxk)">
<rect x="-12" y="-12" width="2179" height="1591" fill="#fff"/>
<text x="226" y="79.5" text-anchor="end">6</text>
<text x="226" y="215.5" text-anchor="end" transform="translate(0 175.5) scale(1 1.1) translate(0 -175.5)">5.5</text>
<text x="226" y="355.5" text-anchor="end">5</text>
<text x="226" y="491.5" text-anchor="end">4.5</text>
<text x="226" y="623.5" text-anchor="end">4</text>
<text x="226" y="759.5" text-anchor="end">3.5</text>
<text x="226" y="899.5" text-anchor="end" transform="translate(0 899.5) scale(1 1.1) translate(0 -899.5)">3</text>
<text x="226" y="1031.5" text-anchor="end">2.5</text>
<text x="226" y="1167.5" text-anchor="end">2</text>
<text x="226" y="1303.5" text-anchor="end">1.5</text>
<text x="226" y="1435.5" text-anchor="end">1</text>
<text x="323.51 353.6 369.38 397.39 414.17 439.97 456.62 494.21 526.3" y="1507.5">Plain CSS</text>
<text x="762.7" y="1507.5" text-anchor="middle">CG (0.1%)</text>
<text x="1083.2" y="1507.5" text-anchor="middle">CG (0.17%)</text>
<text x="1405.3" y="1507.5" text-anchor="middle">CG (0.24%)</text>
<text x="1727" y="1507.5" text-anchor="middle">CG (0.34%)</text>
<text transform="translate(92.5 1243.72) rotate(-90)" x="0 56.61 81.72 96.1 122.2 151.6 172.48 189.13 223.03 252.03 275.93 300.24 328.15 346.65 365.3 395.9 410.11 428.76 469.58 497.98 525.88 537.66 552.35 581.95 607.46 624.55 652.55 667.3 697.5 728.1 756.7 781.41 794.89 840.98 866.59 896.19 917.39 935.74 950.09 967.7 1018.72" y="0">Weight Losses of Duplicate Specimens, (%)</text>
<text transform="translate(2085.5 1237.83) rotate(-90)" x="-1 39.82 53.8 70.08 88.4 119.4 140.8 168.3 196.1 209.38 247.39 258.24 303.36 328.37 360.67 385.68 400.33 432.63 459.44 481.74 502.75 517.53 546.83 576.13 590.78 603.36 616.04 662.82 689.93 711.21 727.86 754.16 784.46 799.11 841.43 884.25 909.76 924.41 941.92 975.34 998.15" y="0">Ultrosonic wave passing time/ 54 KHz (μs)</text>
</g>
<g id="labels-right" fill="#0070c4" filter="url(#pxb)">
<rect x="-12" y="-12" width="2179" height="1591" fill="#fff"/>
<text x="1937" y="79">40</text>
<text x="1937" y="255">35</text>
<text x="1937" y="423">30</text>
<text x="1937" y="591">25</text>
<text x="1937" y="759">20</text>
<text x="1937" y="931">15</text>
<text x="1937" y="1099">10</text>
<text x="1937" y="1267">5</text>
<text x="1937" y="1435">0</text>
</g>
<g id="chart" shape-rendering="crispEdges" filter="url(#soft)">
<rect x="370" y="548" width="140" height="312" fill="url(#p0k1)"/><rect x="370" y="860" width="140" height="556" fill="url(#p0k2)"/>
<rect x="370" y="548" width="4" height="868" fill="#000"/>
<rect x="506" y="548" width="4" height="868" fill="#000"/>
<rect x="370" y="548" width="140" height="4" fill="#000"/>
<rect x="370" y="548" width="4" height="4" fill="#2b2b2b"/>
<rect x="506" y="548" width="4" height="4" fill="#2b2b2b"/>
<rect x="410" y="176" width="60" height="1240" fill="#fff"/>
<rect x="410" y="176" width="60" height="28" fill="url(#p0b0)"/><rect x="410" y="204" width="60" height="656" fill="url(#p0b1)"/><rect x="410" y="860" width="60" height="556" fill="url(#p0b2)"/>
<rect x="410" y="176" width="4" height="1240" fill="#1c9ad8"/>
<rect x="466" y="176" width="4" height="1240" fill="#1c9ad8"/>
<rect x="410" y="176" width="60" height="4" fill="#1c9ad8"/>
<rect x="410" y="176" width="4" height="4" fill="#58b2e2"/>
<rect x="466" y="176" width="4" height="4" fill="#58b2e2"/>
<rect x="690" y="1028" width="140" height="388" fill="url(#p1k2)"/>
<rect x="690" y="1028" width="4" height="388" fill="#000"/>
<rect x="826" y="1028" width="4" height="388" fill="#000"/>
<rect x="690" y="1028" width="140" height="4" fill="#000"/>
<rect x="690" y="1028" width="4" height="4" fill="#2b2b2b"/>
<rect x="826" y="1028" width="4" height="4" fill="#2b2b2b"/>
<rect x="730" y="396" width="60" height="1020" fill="#fff"/>
<rect x="730" y="396" width="60" height="464" fill="url(#p1b1)"/><rect x="730" y="860" width="60" height="556" fill="url(#p1b2)"/>
<rect x="730" y="396" width="4" height="1020" fill="#1c9ad8"/>
<rect x="786" y="396" width="4" height="1020" fill="#1c9ad8"/>
<rect x="730" y="396" width="60" height="4" fill="#1c9ad8"/>
<rect x="730" y="396" width="4" height="4" fill="#58b2e2"/>
<rect x="786" y="396" width="4" height="4" fill="#58b2e2"/>
<rect x="1014" y="800" width="140" height="60" fill="url(#p2k1)"/><rect x="1014" y="860" width="140" height="556" fill="url(#p2k2)"/>
<rect x="1014" y="800" width="4" height="616" fill="#000"/>
<rect x="1150" y="800" width="4" height="616" fill="#000"/>
<rect x="1014" y="800" width="140" height="4" fill="#000"/>
<rect x="1014" y="800" width="4" height="4" fill="#2b2b2b"/>
<rect x="1150" y="800" width="4" height="4" fill="#2b2b2b"/>
<rect x="1054" y="328" width="60" height="1088" fill="#fff"/>
<rect x="1054" y="328" width="60" height="532" fill="url(#p2b1)"/><rect x="1054" y="860" width="60" height="556" fill="url(#p2b2)"/>
<rect x="1054" y="328" width="4" height="1088" fill="#1c9ad8"/>
<rect x="1110" y="328" width="4" height="1088" fill="#1c9ad8"/>
<rect x="1054" y="328" width="60" height="4" fill="#1c9ad8"/>
<rect x="1054" y="328" width="4" height="4" fill="#58b2e2"/>
<rect x="1110" y="328" width="4" height="4" fill="#58b2e2"/>
<rect x="1334" y="728" width="140" height="132" fill="url(#p3k1)"/><rect x="1334" y="860" width="140" height="556" fill="url(#p3k2)"/>
<rect x="1334" y="728" width="4" height="688" fill="#000"/>
<rect x="1470" y="728" width="4" height="688" fill="#000"/>
<rect x="1334" y="728" width="140" height="4" fill="#000"/>
<rect x="1334" y="728" width="4" height="4" fill="#2b2b2b"/>
<rect x="1470" y="728" width="4" height="4" fill="#2b2b2b"/>
<rect x="1374" y="264" width="60" height="1152" fill="#fff"/>
<rect x="1374" y="264" width="60" height="596" fill="url(#p3b1)"/><rect x="1374" y="860" width="60" height="556" fill="url(#p3b2)"/>
<rect x="1374" y="264" width="4" height="1152" fill="#1c9ad8"/>
<rect x="1430" y="264" width="4" height="1152" fill="#1c9ad8"/>
<rect x="1374" y="264" width="60" height="4" fill="#1c9ad8"/>
<rect x="1374" y="264" width="4" height="4" fill="#58b2e2"/>
<rect x="1430" y="264" width="4" height="4" fill="#58b2e2"/>
<rect x="1658" y="468" width="144" height="392" fill="url(#p4k1)"/><rect x="1658" y="860" width="144" height="556" fill="url(#p4k2)"/>
<rect x="1658" y="468" width="4" height="948" fill="#000"/>
<rect x="1798" y="468" width="4" height="948" fill="#000"/>
<rect x="1658" y="468" width="144" height="4" fill="#000"/>
<rect x="1658" y="468" width="4" height="4" fill="#2b2b2b"/>
<rect x="1798" y="468" width="4" height="4" fill="#2b2b2b"/>
<rect x="1698" y="156" width="60" height="1260" fill="#fff"/>
<rect x="1698" y="156" width="60" height="48" fill="url(#p4b0)"/><rect x="1698" y="204" width="60" height="656" fill="url(#p4b1)"/><rect x="1698" y="860" width="60" height="556" fill="url(#p4b2)"/>
<rect x="1698" y="156" width="4" height="1260" fill="#1c9ad8"/>
<rect x="1754" y="156" width="4" height="1260" fill="#1c9ad8"/>
<rect x="1698" y="156" width="60" height="4" fill="#1c9ad8"/>
<rect x="1698" y="156" width="4" height="4" fill="#58b2e2"/>
<rect x="1754" y="156" width="4" height="4" fill="#58b2e2"/>
<rect x="438" y="156" width="4" height="52" fill="#5a5a5a"/>
<rect x="422" y="156" width="36" height="4" fill="#5a5a5a"/>
<rect x="418" y="156" width="4" height="4" fill="#5a5a5a" opacity=".72"/>
<rect x="458" y="156" width="4" height="4" fill="#5a5a5a" opacity=".72"/>
<rect x="422" y="200" width="36" height="8" fill="#5a5a5a"/>
<rect x="418" y="200" width="4" height="8" fill="#5a5a5a" opacity=".72"/>
<rect x="458" y="200" width="4" height="8" fill="#5a5a5a" opacity=".72"/>
<rect x="758" y="372" width="4" height="52" fill="#5a5a5a"/>
<rect x="742" y="372" width="36" height="4" fill="#5a5a5a"/>
<rect x="738" y="372" width="4" height="4" fill="#5a5a5a" opacity=".72"/>
<rect x="778" y="372" width="4" height="4" fill="#5a5a5a" opacity=".72"/>
<rect x="742" y="420" width="36" height="4" fill="#5a5a5a"/>
<rect x="738" y="420" width="4" height="4" fill="#5a5a5a" opacity=".72"/>
<rect x="778" y="420" width="4" height="4" fill="#5a5a5a" opacity=".72"/>
<rect x="1082" y="304" width="4" height="52" fill="#5a5a5a"/>
<rect x="1066" y="304" width="36" height="4" fill="#5a5a5a"/>
<rect x="1062" y="304" width="4" height="4" fill="#5a5a5a" opacity=".72"/>
<rect x="1102" y="304" width="4" height="4" fill="#5a5a5a" opacity=".72"/>
<rect x="1066" y="352" width="36" height="4" fill="#5a5a5a"/>
<rect x="1062" y="352" width="4" height="4" fill="#5a5a5a" opacity=".72"/>
<rect x="1102" y="352" width="4" height="4" fill="#5a5a5a" opacity=".72"/>
<rect x="1402" y="240" width="4" height="52" fill="#5a5a5a"/>
<rect x="1386" y="240" width="36" height="4" fill="#5a5a5a"/>
<rect x="1382" y="240" width="4" height="4" fill="#5a5a5a" opacity=".72"/>
<rect x="1422" y="240" width="4" height="4" fill="#5a5a5a" opacity=".72"/>
<rect x="1386" y="288" width="36" height="4" fill="#5a5a5a"/>
<rect x="1382" y="288" width="4" height="4" fill="#5a5a5a" opacity=".72"/>
<rect x="1422" y="288" width="4" height="4" fill="#5a5a5a" opacity=".72"/>
<rect x="1726" y="132" width="4" height="52" fill="#5a5a5a"/>
<rect x="1710" y="132" width="36" height="4" fill="#5a5a5a"/>
<rect x="1706" y="132" width="4" height="4" fill="#5a5a5a" opacity=".72"/>
<rect x="1746" y="132" width="4" height="4" fill="#5a5a5a" opacity=".72"/>
<rect x="1710" y="180" width="36" height="4" fill="#5a5a5a"/>
<rect x="1706" y="180" width="4" height="4" fill="#5a5a5a" opacity=".72"/>
<rect x="1746" y="180" width="4" height="4" fill="#5a5a5a" opacity=".72"/>
<rect x="274" y="60" width="4" height="1360" fill="#000"/>
<rect x="262" y="1416" width="1628" height="4" fill="#000"/>
<rect x="262" y="1416" width="4" height="4" fill="#3a3a3a"/>
<rect x="262" y="60" width="32" height="4" fill="#000"/>
<rect x="262" y="60" width="4" height="4" fill="#3a3a3a"/>
<rect x="290" y="60" width="4" height="4" fill="#3a3a3a"/>
<rect x="262" y="88" width="12" height="4" fill="#000"/>
<rect x="262" y="88" width="4" height="4" fill="#3a3a3a"/>
<rect x="262" y="116" width="12" height="4" fill="#000"/>
<rect x="262" y="116" width="4" height="4" fill="#3a3a3a"/>
<rect x="262" y="144" width="12" height="4" fill="#000"/>
<rect x="262" y="144" width="4" height="4" fill="#3a3a3a"/>
<rect x="262" y="168" width="12" height="4" fill="#000"/>
<rect x="262" y="168" width="4" height="4" fill="#3a3a3a"/>
<rect x="262" y="196" width="32" height="4" fill="#000"/>
<rect x="262" y="196" width="4" height="4" fill="#3a3a3a"/>
<rect x="290" y="196" width="4" height="4" fill="#3a3a3a"/>
<rect x="262" y="228" width="12" height="4" fill="#000"/>
<rect x="262" y="228" width="4" height="4" fill="#3a3a3a"/>
<rect x="262" y="256" width="12" height="4" fill="#000"/>
<rect x="262" y="256" width="4" height="4" fill="#3a3a3a"/>
<rect x="262" y="280" width="12" height="4" fill="#000"/>
<rect x="262" y="280" width="4" height="4" fill="#3a3a3a"/>
<rect x="262" y="308" width="12" height="4" fill="#000"/>
<rect x="262" y="308" width="4" height="4" fill="#3a3a3a"/>
<rect x="262" y="336" width="32" height="4" fill="#000"/>
<rect x="262" y="336" width="4" height="4" fill="#3a3a3a"/>
<rect x="290" y="336" width="4" height="4" fill="#3a3a3a"/>
<rect x="262" y="364" width="12" height="4" fill="#000"/>
<rect x="262" y="364" width="4" height="4" fill="#3a3a3a"/>
<rect x="262" y="388" width="12" height="4" fill="#000"/>
<rect x="262" y="388" width="4" height="4" fill="#3a3a3a"/>
<rect x="262" y="416" width="12" height="4" fill="#000"/>
<rect x="262" y="416" width="4" height="4" fill="#3a3a3a"/>
<rect x="262" y="444" width="12" height="4" fill="#000"/>
<rect x="262" y="444" width="4" height="4" fill="#3a3a3a"/>
<rect x="262" y="472" width="32" height="4" fill="#000"/>
<rect x="262" y="472" width="4" height="4" fill="#3a3a3a"/>
<rect x="290" y="472" width="4" height="4" fill="#3a3a3a"/>
<rect x="262" y="496" width="12" height="4" fill="#000"/>
<rect x="262" y="496" width="4" height="4" fill="#3a3a3a"/>
<rect x="262" y="524" width="12" height="4" fill="#000"/>
<rect x="262" y="524" width="4" height="4" fill="#3a3a3a"/>
<rect x="262" y="552" width="12" height="4" fill="#000"/>
<rect x="262" y="552" width="4" height="4" fill="#3a3a3a"/>
<rect x="262" y="576" width="12" height="4" fill="#000"/>
<rect x="262" y="576" width="4" height="4" fill="#3a3a3a"/>
<rect x="262" y="604" width="32" height="4" fill="#000"/>
<rect x="262" y="604" width="4" height="4" fill="#3a3a3a"/>
<rect x="290" y="604" width="4" height="4" fill="#3a3a3a"/>
<rect x="262" y="632" width="12" height="4" fill="#000"/>
<rect x="262" y="632" width="4" height="4" fill="#3a3a3a"/>
<rect x="262" y="660" width="12" height="4" fill="#000"/>
<rect x="262" y="660" width="4" height="4" fill="#3a3a3a"/>
<rect x="262" y="684" width="12" height="4" fill="#000"/>
<rect x="262" y="684" width="4" height="4" fill="#3a3a3a"/>
<rect x="262" y="712" width="12" height="4" fill="#000"/>
<rect x="262" y="712" width="4" height="4" fill="#3a3a3a"/>
<rect x="262" y="740" width="32" height="4" fill="#000"/>
<rect x="262" y="740" width="4" height="4" fill="#3a3a3a"/>
<rect x="290" y="740" width="4" height="4" fill="#3a3a3a"/>
<rect x="262" y="768" width="12" height="4" fill="#000"/>
<rect x="262" y="768" width="4" height="4" fill="#3a3a3a"/>
<rect x="262" y="792" width="12" height="4" fill="#000"/>
<rect x="262" y="792" width="4" height="4" fill="#3a3a3a"/>
<rect x="262" y="820" width="12" height="4" fill="#000"/>
<rect x="262" y="820" width="4" height="4" fill="#3a3a3a"/>
<rect x="262" y="848" width="12" height="4" fill="#000"/>
<rect x="262" y="848" width="4" height="4" fill="#3a3a3a"/>
<rect x="262" y="880" width="32" height="4" fill="#000"/>
<rect x="262" y="880" width="4" height="4" fill="#3a3a3a"/>
<rect x="290" y="880" width="4" height="4" fill="#3a3a3a"/>
<rect x="262" y="904" width="12" height="4" fill="#000"/>
<rect x="262" y="904" width="4" height="4" fill="#3a3a3a"/>
<rect x="262" y="932" width="12" height="4" fill="#000"/>
<rect x="262" y="932" width="4" height="4" fill="#3a3a3a"/>
<rect x="262" y="960" width="12" height="4" fill="#000"/>
<rect x="262" y="960" width="4" height="4" fill="#3a3a3a"/>
<rect x="262" y="988" width="12" height="4" fill="#000"/>
<rect x="262" y="988" width="4" height="4" fill="#3a3a3a"/>
<rect x="262" y="1012" width="32" height="4" fill="#000"/>
<rect x="262" y="1012" width="4" height="4" fill="#3a3a3a"/>
<rect x="290" y="1012" width="4" height="4" fill="#3a3a3a"/>
<rect x="262" y="1040" width="12" height="4" fill="#000"/>
<rect x="262" y="1040" width="4" height="4" fill="#3a3a3a"/>
<rect x="262" y="1068" width="12" height="4" fill="#000"/>
<rect x="262" y="1068" width="4" height="4" fill="#3a3a3a"/>
<rect x="262" y="1096" width="12" height="4" fill="#000"/>
<rect x="262" y="1096" width="4" height="4" fill="#3a3a3a"/>
<rect x="262" y="1120" width="12" height="4" fill="#000"/>
<rect x="262" y="1120" width="4" height="4" fill="#3a3a3a"/>
<rect x="262" y="1148" width="32" height="4" fill="#000"/>
<rect x="262" y="1148" width="4" height="4" fill="#3a3a3a"/>
<rect x="290" y="1148" width="4" height="4" fill="#3a3a3a"/>
<rect x="262" y="1176" width="12" height="4" fill="#000"/>
<rect x="262" y="1176" width="4" height="4" fill="#3a3a3a"/>
<rect x="262" y="1204" width="12" height="4" fill="#000"/>
<rect x="262" y="1204" width="4" height="4" fill="#3a3a3a"/>
<rect x="262" y="1228" width="12" height="4" fill="#000"/>
<rect x="262" y="1228" width="4" height="4" fill="#3a3a3a"/>
<rect x="262" y="1256" width="12" height="4" fill="#000"/>
<rect x="262" y="1256" width="4" height="4" fill="#3a3a3a"/>
<rect x="262" y="1284" width="32" height="4" fill="#000"/>
<rect x="262" y="1284" width="4" height="4" fill="#3a3a3a"/>
<rect x="290" y="1284" width="4" height="4" fill="#3a3a3a"/>
<rect x="262" y="1308" width="12" height="4" fill="#000"/>
<rect x="262" y="1308" width="4" height="4" fill="#3a3a3a"/>
<rect x="262" y="1336" width="12" height="4" fill="#000"/>
<rect x="262" y="1336" width="4" height="4" fill="#3a3a3a"/>
<rect x="262" y="1364" width="12" height="4" fill="#000"/>
<rect x="262" y="1364" width="4" height="4" fill="#3a3a3a"/>
<rect x="262" y="1392" width="12" height="4" fill="#000"/>
<rect x="262" y="1392" width="4" height="4" fill="#3a3a3a"/>
<rect x="274" y="60" width="4" height="1360" fill="#000"/>
<rect x="598" y="1404" width="4" height="12" fill="#000"/>
<rect x="598" y="1400" width="4" height="4" fill="#555"/>
<rect x="918" y="1404" width="4" height="12" fill="#000"/>
<rect x="918" y="1400" width="4" height="4" fill="#555"/>
<rect x="1242" y="1404" width="4" height="12" fill="#000"/>
<rect x="1242" y="1400" width="4" height="4" fill="#555"/>
<rect x="1562" y="1404" width="4" height="12" fill="#000"/>
<rect x="1562" y="1400" width="4" height="4" fill="#555"/>
<rect x="1886" y="60" width="4" height="1340" fill="#0070c4"/>
<rect x="1886" y="1400" width="4" height="4" fill="#062a4a"/>
<rect x="1886" y="1404" width="4" height="16" fill="#000"/>
<rect x="1874" y="60" width="32" height="4" fill="#0070c4"/>
<rect x="1874" y="60" width="4" height="4" fill="#0a94d6"/>
<rect x="1902" y="60" width="4" height="4" fill="#0a94d6"/>
<rect x="1874" y="96" width="12" height="4" fill="#0070c4"/>
<rect x="1874" y="96" width="4" height="4" fill="#0a94d6"/>
<rect x="1874" y="128" width="12" height="4" fill="#0070c4"/>
<rect x="1874" y="128" width="4" height="4" fill="#0a94d6"/>
<rect x="1874" y="164" width="12" height="4" fill="#0070c4"/>
<rect x="1874" y="164" width="4" height="4" fill="#0a94d6"/>
<rect x="1874" y="196" width="12" height="4" fill="#0070c4"/>
<rect x="1874" y="196" width="4" height="4" fill="#0a94d6"/>
<rect x="1874" y="236" width="32" height="4" fill="#0070c4"/>
<rect x="1874" y="236" width="4" height="4" fill="#0a94d6"/>
<rect x="1902" y="236" width="4" height="4" fill="#0a94d6"/>
<rect x="1874" y="268" width="12" height="4" fill="#0070c4"/>
<rect x="1874" y="268" width="4" height="4" fill="#0a94d6"/>
<rect x="1874" y="300" width="12" height="4" fill="#0070c4"/>
<rect x="1874" y="300" width="4" height="4" fill="#0a94d6"/>
<rect x="1874" y="336" width="12" height="4" fill="#0070c4"/>
<rect x="1874" y="336" width="4" height="4" fill="#0a94d6"/>
<rect x="1874" y="368" width="12" height="4" fill="#0070c4"/>
<rect x="1874" y="368" width="4" height="4" fill="#0a94d6"/>
<rect x="1874" y="404" width="32" height="4" fill="#0070c4"/>
<rect x="1874" y="404" width="4" height="4" fill="#0a94d6"/>
<rect x="1902" y="404" width="4" height="4" fill="#0a94d6"/>
<rect x="1874" y="436" width="12" height="4" fill="#0070c4"/>
<rect x="1874" y="436" width="4" height="4" fill="#0a94d6"/>
<rect x="1874" y="472" width="12" height="4" fill="#0070c4"/>
<rect x="1874" y="472" width="4" height="4" fill="#0a94d6"/>
<rect x="1874" y="504" width="12" height="4" fill="#0070c4"/>
<rect x="1874" y="504" width="4" height="4" fill="#0a94d6"/>
<rect x="1874" y="536" width="12" height="4" fill="#0070c4"/>
<rect x="1874" y="536" width="4" height="4" fill="#0a94d6"/>
<rect x="1874" y="572" width="32" height="4" fill="#0070c4"/>
<rect x="1874" y="572" width="4" height="4" fill="#0a94d6"/>
<rect x="1902" y="572" width="4" height="4" fill="#0a94d6"/>
<rect x="1874" y="604" width="12" height="4" fill="#0070c4"/>
<rect x="1874" y="604" width="4" height="4" fill="#0a94d6"/>
<rect x="1874" y="640" width="12" height="4" fill="#0070c4"/>
<rect x="1874" y="640" width="4" height="4" fill="#0a94d6"/>
<rect x="1874" y="672" width="12" height="4" fill="#0070c4"/>
<rect x="1874" y="672" width="4" height="4" fill="#0a94d6"/>
<rect x="1874" y="708" width="12" height="4" fill="#0070c4"/>
<rect x="1874" y="708" width="4" height="4" fill="#0a94d6"/>
<rect x="1874" y="740" width="32" height="4" fill="#0070c4"/>
<rect x="1874" y="740" width="4" height="4" fill="#0a94d6"/>
<rect x="1902" y="740" width="4" height="4" fill="#0a94d6"/>
<rect x="1874" y="772" width="12" height="4" fill="#0070c4"/>
<rect x="1874" y="772" width="4" height="4" fill="#0a94d6"/>
<rect x="1874" y="808" width="12" height="4" fill="#0070c4"/>
<rect x="1874" y="808" width="4" height="4" fill="#0a94d6"/>
<rect x="1874" y="840" width="12" height="4" fill="#0070c4"/>
<rect x="1874" y="840" width="4" height="4" fill="#0a94d6"/>
<rect x="1874" y="880" width="12" height="4" fill="#0070c4"/>
<rect x="1874" y="880" width="4" height="4" fill="#0a94d6"/>
<rect x="1874" y="912" width="32" height="4" fill="#0070c4"/>
<rect x="1874" y="912" width="4" height="4" fill="#0a94d6"/>
<rect x="1902" y="912" width="4" height="4" fill="#0a94d6"/>
<rect x="1874" y="944" width="12" height="4" fill="#0070c4"/>
<rect x="1874" y="944" width="4" height="4" fill="#0a94d6"/>
<rect x="1874" y="980" width="12" height="4" fill="#0070c4"/>
<rect x="1874" y="980" width="4" height="4" fill="#0a94d6"/>
<rect x="1874" y="1012" width="12" height="4" fill="#0070c4"/>
<rect x="1874" y="1012" width="4" height="4" fill="#0a94d6"/>
<rect x="1874" y="1048" width="12" height="4" fill="#0070c4"/>
<rect x="1874" y="1048" width="4" height="4" fill="#0a94d6"/>
<rect x="1874" y="1080" width="32" height="4" fill="#0070c4"/>
<rect x="1874" y="1080" width="4" height="4" fill="#0a94d6"/>
<rect x="1902" y="1080" width="4" height="4" fill="#0a94d6"/>
<rect x="1874" y="1116" width="12" height="4" fill="#0070c4"/>
<rect x="1874" y="1116" width="4" height="4" fill="#0a94d6"/>
<rect x="1874" y="1148" width="12" height="4" fill="#0070c4"/>
<rect x="1874" y="1148" width="4" height="4" fill="#0a94d6"/>
<rect x="1874" y="1180" width="12" height="4" fill="#0070c4"/>
<rect x="1874" y="1180" width="4" height="4" fill="#0a94d6"/>
<rect x="1874" y="1216" width="12" height="4" fill="#0070c4"/>
<rect x="1874" y="1216" width="4" height="4" fill="#0a94d6"/>
<rect x="1874" y="1248" width="32" height="4" fill="#0070c4"/>
<rect x="1874" y="1248" width="4" height="4" fill="#0a94d6"/>
<rect x="1902" y="1248" width="4" height="4" fill="#0a94d6"/>
<rect x="1874" y="1284" width="12" height="4" fill="#0070c4"/>
<rect x="1874" y="1284" width="4" height="4" fill="#0a94d6"/>
<rect x="1874" y="1316" width="12" height="4" fill="#0070c4"/>
<rect x="1874" y="1316" width="4" height="4" fill="#0a94d6"/>
<rect x="1874" y="1352" width="12" height="4" fill="#0070c4"/>
<rect x="1874" y="1352" width="4" height="4" fill="#0a94d6"/>
<rect x="1874" y="1384" width="12" height="4" fill="#0070c4"/>
<rect x="1874" y="1384" width="4" height="4" fill="#0a94d6"/>
<rect x="1890" y="1416" width="16" height="4" fill="#0070c4"/>
<rect x="1902" y="1416" width="4" height="4" fill="#0a94d6"/>
</g>
<g id="arrow"><path d="M1930 172.6C1956 172 1977 156 1978 128C1978.3 121 1980 116 1984 110" fill="none" stroke="#1c9ad8" stroke-width="4.6"/><path d="M1970.1 90.3L2027.1 86.1L1996 134Z" fill="#1c9ad8"/></g>
</svg></body></html>
